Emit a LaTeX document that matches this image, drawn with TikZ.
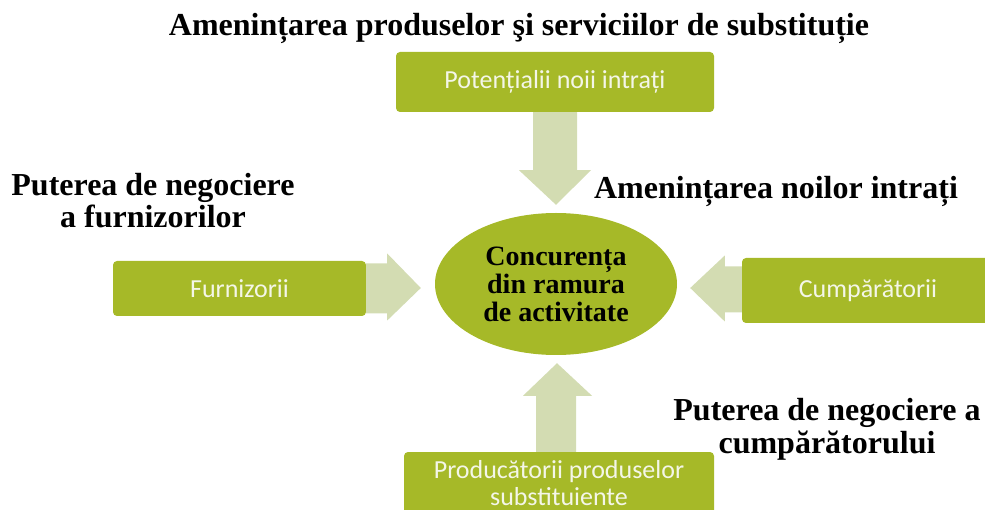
\documentclass[tikz,border=0pt]{standalone}
\usepackage{fontspec}
\setmainfont{Liberation Serif}
\newfontfamily\boxfont{Carlito}
\usetikzlibrary{calc,shapes.geometric}
\definecolor{boxgreen}{RGB}{166,185,40}
\definecolor{arrowgreen}{RGB}{211,220,178}
\definecolor{boxtext}{RGB}{244,246,232}
\begin{document}
\begin{tikzpicture}[x=1pt,y=-1pt,
  greenbox/.style={fill=boxgreen, rounded corners=4pt, inner sep=0pt},
  boxlabel/.style={font=\boxfont\fontsize{26}{27}\selectfont, text=boxtext, align=center},
  forcelabel/.style={font=\bfseries\fontsize{32}{32.5}\selectfont, align=center, inner sep=0pt, anchor=base},
  blockarrow/.style={fill=arrowgreen}]
\useasboundingbox (0,0) rectangle (985,510);

% boxes
\node[greenbox, boxlabel, minimum width=318pt, minimum height=60pt] (entrants) at (555,82) {Potențialii noii intrați};
\node[greenbox, boxlabel, minimum width=253pt, minimum height=55pt] (suppliers) at (239.5,288.5) {Furnizorii};
\node[greenbox, boxlabel, minimum width=252pt, minimum height=65pt] (buyers) at (868,290.5) {Cumpărătorii};
\node[greenbox, boxlabel, minimum width=310pt, minimum height=62pt] (substitutes) at (559,483) {Producătorii produselor\\substituiente};

% centre
\node[ellipse, fill=boxgreen, minimum width=242pt, minimum height=142pt, inner sep=0pt,
      align=center, font=\bfseries\fontsize{28}{28}\selectfont] (core) at (556,284)
      {Concurența\\din ramura\\de activitate};

% block arrows
\fill[blockarrow] ($(entrants.south)+(-22,0)$) -- ($(entrants.south)+(22,0)$) -- ($(entrants.south)+(22,58)$)
  -- ($(entrants.south)+(36,58)$) -- ($(core.north)+(0,-8)$) -- ($(entrants.south)+(-36,58)$)
  -- ($(entrants.south)+(-22,58)$) -- cycle;
\fill[blockarrow] ($(suppliers.east)+(0,-25)$) -- ($(suppliers.east)+(21,-25)$) -- ($(suppliers.east)+(21,-35)$)
  -- ($(core.west)+(-14,4)$) -- ($(suppliers.east)+(21,32)$) -- ($(suppliers.east)+(21,25)$)
  -- ($(suppliers.east)+(0,25)$) -- cycle;
\fill[blockarrow] ($(buyers.west)+(0,-24)$) -- ($(buyers.west)+(-17,-24)$) -- ($(buyers.west)+(-17,-35)$)
  -- ($(core.east)+(13,4)$) -- ($(buyers.west)+(-17,31)$) -- ($(buyers.west)+(-17,22)$)
  -- ($(buyers.west)+(0,22)$) -- cycle;
\fill[blockarrow] ($(substitutes.north)+(-23,0)$) -- ($(substitutes.north)+(17,0)$) -- ($(substitutes.north)+(17,-56)$)
  -- ($(substitutes.north)+(33,-56)$) -- ($(core.south)+(1,8)$) -- ($(substitutes.north)+(-36,-56)$)
  -- ($(substitutes.north)+(-23,-56)$) -- cycle;

% force labels
\node[forcelabel] (threatsub) at (519,36) {Amenințarea produselor şi serviciilor de substituție};
\node[forcelabel] (powersup) at (153,228) {Puterea de negociere\\a furnizorilor};
\node[forcelabel] (threatnew) at (776,199) {Amenințarea noilor intrați};
\node[forcelabel] (powerbuy) at (827,453) {Puterea de negociere a\\cumpărătorului};
\end{tikzpicture}
\end{document}
